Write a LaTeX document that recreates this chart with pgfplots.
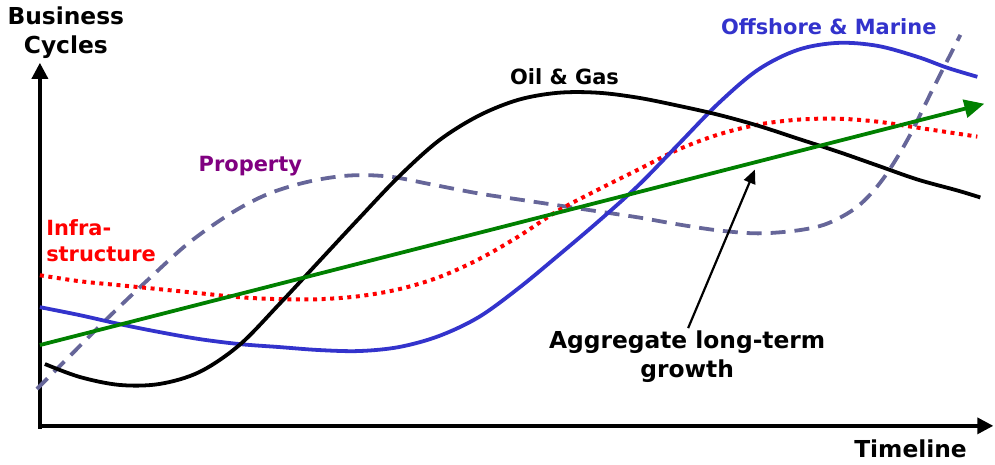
\documentclass[border=0pt]{standalone}
\usepackage{pgfplots}
\pgfplotsset{compat=1.18}
\usepackage{fontspec}
\setmainfont{DejaVu Sans}
\usetikzlibrary{arrows.meta}
\definecolor{offshore}{RGB}{51,51,204}
\definecolor{property}{RGB}{102,102,153}
\definecolor{propertylbl}{RGB}{128,0,128}
\definecolor{growth}{RGB}{0,128,0}
\newcommand{\lblfont}{\fontsize{10.5}{13}\selectfont\bfseries}
\newcommand{\titlefont}{\fontsize{11.7}{14.5}\selectfont\bfseries}
\begin{document}
\begin{tikzpicture}
\begin{axis}[
  scale only axis, width=497.5pt, height=230.5pt,
  xmin=0, xmax=995, ymin=0, ymax=461, y dir=reverse,
  hide axis, clip=false]
\path (axis cs:0,0) rectangle (axis cs:995,461);
% axes
\draw[line width=1.7pt, -{Triangle[length=8pt,width=8pt]}] (axis cs:40,430) -- (axis cs:40,63);
\draw[line width=1.7pt, -{Triangle[length=8pt,width=8pt]}] (axis cs:40,427) -- (axis cs:996,427);
% Property
\addplot[property, line width=1.9pt, dash pattern=on 7.5pt off 4.5pt, smooth, tension=0.55] coordinates {
(37,390) (70,357) (110,317) (150,279) (190,243) (233,213) (270,194) (310,182)
(350,176) (390,177) (433,185) (480,194) (520,200) (560,206) (600,212) (640,218)
(680,225) (720,231) (760,234) (800,231) (830,224) (860,207) (885,180) (910,140)
(935,90) (963,35)};
% Infrastructure
\addplot[red, line width=2pt, dash pattern=on 2pt off 2.3pt, smooth, tension=0.55] coordinates {
(40,276) (80,282) (120,286) (160,290) (200,294) (240,298) (280,300) (320,300)
(360,297) (400,290) (440,278) (480,260) (520,237) (560,211) (600,190) (640,170)
(680,150) (720,135) (760,125) (800,120) (840,119) (880,122) (920,128) (960,134)
(980,137)};
% Offshore & Marine
\addplot[offshore, line width=1.9pt, smooth, tension=0.55] coordinates {
(40,308) (80,316) (120,325) (160,333) (200,340) (240,345) (280,348) (320,351)
(360,352) (400,348) (440,337) (480,318) (520,289) (560,256) (600,222) (640,186)
(680,145) (720,104) (760,70) (800,50) (840,43) (880,46) (920,57) (950,68) (980,77)};
% Oil & Gas
\addplot[black, line width=1.9pt, smooth, tension=0.55] coordinates {
(45,365) (80,378) (120,386) (160,385) (200,373) (240,346) (280,305) (320,262)
(360,219) (400,177) (440,141) (480,116) (520,100) (560,93) (600,93) (640,98)
(680,106) (720,115) (760,126) (800,139) (840,152) (880,166) (920,180) (960,191)
(983,198)};
% aggregate growth
\addplot[growth, line width=1.9pt, -{Triangle[length=10pt,width=9pt]}] coordinates {
(40,346) (987,104)};
% annotation arrow
\draw[black, line width=1.1pt, -{Triangle[length=7pt,width=6pt]}] (axis cs:690,329) -- (axis cs:757,170);
% labels
\node[align=center, font=\titlefont] at (axis cs:66,33) {Business\\Cycles};
\node[font=\titlefont] at (axis cs:913,450) {Timeline};
\node[font=\lblfont] at (axis cs:566,77) {Oil \& Gas};
\node[font=\lblfont, text=offshore] at (axis cs:831,27) {Offshore \& Marine};
\node[font=\lblfont, text=propertylbl] at (axis cs:251,167) {Property};
\node[font=\lblfont, text=red, align=left, anchor=west, inner xsep=0pt] at (axis cs:46,241) {Infra-\\structure};
\node[align=center, font=\titlefont] at (axis cs:689,358) {Aggregate long-term\\growth};
\end{axis}
\end{tikzpicture}
\end{document}
